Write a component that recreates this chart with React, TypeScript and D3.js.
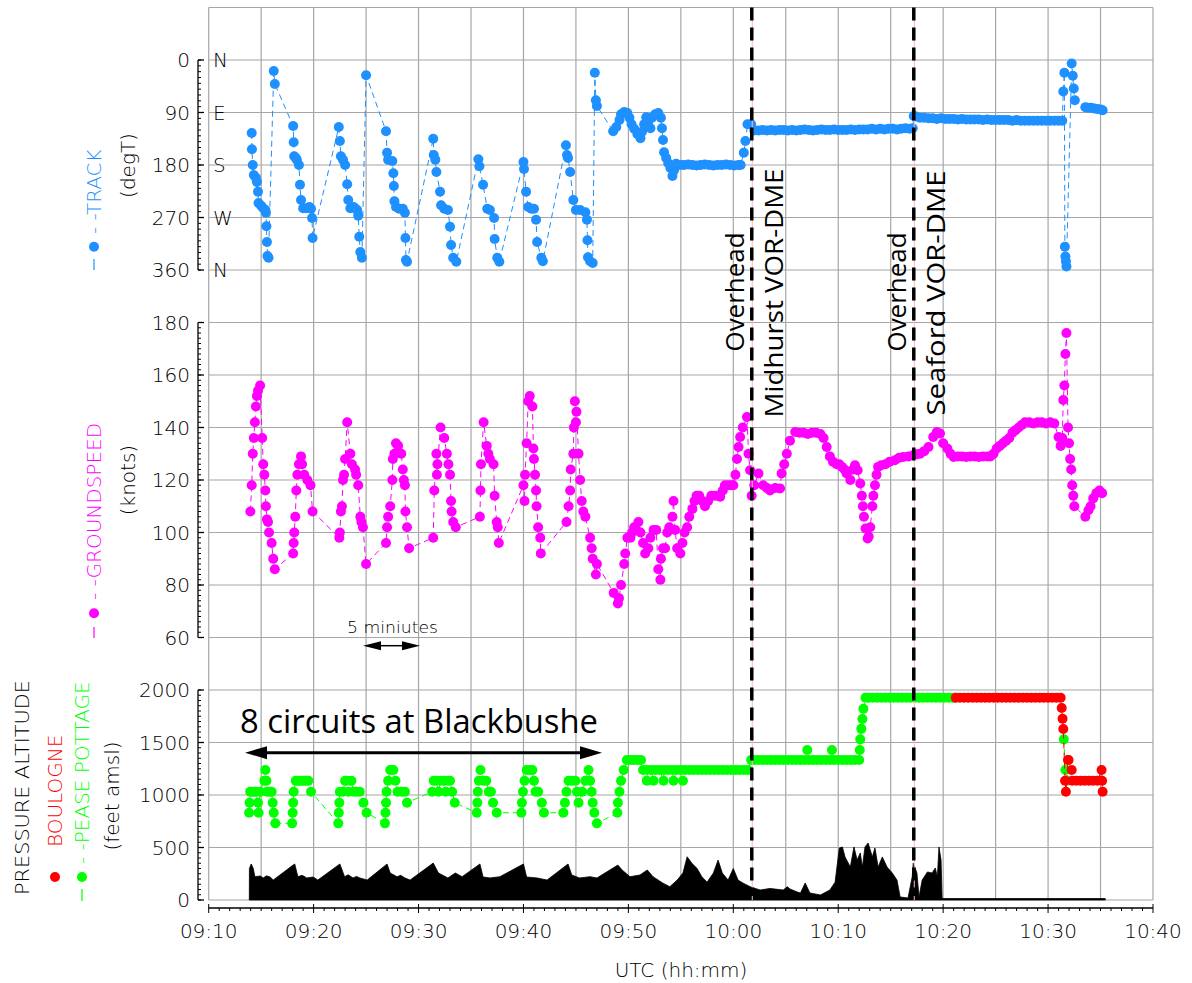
import React from 'react';
import * as d3 from 'd3';

type Pt = [number, number];

// time is minutes after 09:00 UTC

// track, degrees true
const trackPoints: Pt[] = [
  [14.1, 125], [14.12, 153], [14.2, 180], [14.3, 197], [14.5, 202], [14.6, 209], [14.7, 226], [14.75, 245], [15.0, 250], [15.2, 254],
  [15.4, 257], [15.45, 262], [15.5, 285], [15.55, 312], [15.6, 336], [15.7, 339], [16.2, 19], [16.3, 41],
  [18.05, 113], [18.1, 141], [18.15, 165], [18.3, 168], [18.4, 171], [18.6, 180], [18.7, 214], [18.8, 240], [19.0, 254], [19.3, 254],
  [19.6, 252], [19.75, 255], [19.85, 271], [19.9, 305],
  [22.4, 115], [22.5, 139], [22.6, 165], [22.8, 171], [23.0, 180], [23.2, 213], [23.3, 240], [23.5, 254], [23.8, 252], [23.95, 254],
  [24.15, 257], [24.25, 267], [24.35, 303], [24.45, 329], [24.6, 339], [25.0, 26],
  [26.9, 122], [27.0, 159], [27.1, 171], [27.5, 173], [27.6, 194], [27.65, 216], [27.7, 242], [27.85, 252], [28.15, 255], [28.5, 255],
  [28.7, 262], [28.75, 305], [28.8, 343], [28.9, 346],
  [31.4, 135], [31.45, 163], [31.6, 171], [31.7, 192], [32.05, 226], [32.15, 249], [32.45, 255], [32.8, 257], [33.0, 286], [33.1, 317],
  [33.3, 339], [33.6, 346],
  [35.7, 170], [35.8, 182], [36.15, 214], [36.55, 255], [36.8, 257], [37.2, 271], [37.25, 307], [37.5, 339], [37.7, 346],
  [40.0, 175], [40.05, 187], [40.25, 226], [40.45, 252], [40.75, 255], [41.0, 255], [41.2, 274], [41.3, 312], [41.7, 339], [41.85, 345],
  [44.05, 146], [44.15, 163], [44.25, 168], [44.45, 192], [44.75, 240], [45.0, 257], [45.4, 257], [45.9, 261], [46.05, 274], [46.1, 309],
  [46.15, 338], [46.35, 345], [46.6, 348], [46.8, 22], [46.9, 69], [47.0, 79],
  [48.55, 122], [48.85, 115], [49.15, 103], [49.3, 93], [49.6, 89], [49.9, 91], [50.1, 99], [50.3, 110], [50.55, 118], [50.85, 127],
  [51.15, 134], [51.3, 123], [51.5, 110], [51.7, 98], [51.9, 105], [52.1, 117], [52.25, 99], [52.55, 93], [52.85, 91], [53.1, 99],
  [53.2, 117], [53.3, 137], [53.4, 158], [53.6, 168], [53.8, 177], [54.0, 185], [54.2, 199], [54.35, 189], [54.55, 178],
  [54.95, 180], [55.3, 180], [55.7, 179], [56.1, 180], [56.5, 181], [56.9, 180], [57.3, 179], [57.7, 180], [58.1, 181], [58.5, 180],
  [58.9, 180], [59.3, 179], [59.7, 180], [60.1, 181], [60.5, 180], [60.7, 180], [61.0, 159], [61.15, 139], [61.35, 110], [61.7, 110],
  [62.0, 121], [62.4, 121], [62.8, 120], [63.2, 121], [63.6, 120], [64.0, 121], [64.4, 120], [64.8, 120], [65.2, 121], [65.6, 120],
  [66.0, 121], [66.4, 120], [66.8, 119], [67.2, 120], [67.6, 121], [68.0, 120], [68.4, 119], [68.8, 120], [69.2, 120], [69.6, 119],
  [70.0, 120], [70.4, 120], [70.8, 120], [71.2, 119], [71.6, 120], [72.0, 119], [72.4, 119], [72.8, 119], [73.2, 118], [73.6, 119],
  [74.0, 118], [74.4, 119], [74.8, 118], [75.2, 118], [75.6, 119], [76.0, 118], [76.4, 117], [76.8, 118], [77.1, 117],
  [77.2, 96], [77.4, 97], [77.8, 99], [78.2, 99], [78.6, 100], [79.0, 100], [79.4, 101], [79.8, 100], [80.2, 101], [80.6, 101],
  [81.0, 101], [81.4, 102], [81.8, 101], [82.2, 102], [82.6, 102], [83.0, 102], [83.4, 102], [83.8, 103], [84.2, 102], [84.6, 103],
  [85.0, 103], [85.4, 103], [85.8, 103], [86.2, 103], [86.6, 104], [87.0, 103], [87.4, 104], [87.8, 104], [88.2, 104], [88.6, 104],
  [89.0, 104], [89.4, 104], [89.8, 104], [90.2, 104], [90.6, 104], [91.0, 104], [91.35, 104],
  [91.45, 54], [91.55, 22], [91.6, 320], [91.65, 337], [91.7, 345], [91.75, 354], [92.25, 6], [92.35, 27], [92.45, 49], [92.55, 69],
  [93.55, 81], [93.8, 82], [94.1, 82], [94.4, 83], [94.7, 84], [95.0, 85], [95.2, 86],
];

// groundspeed, knots
const groundspeedPoints: Pt[] = [
  [13.97, 108], [14.1, 118], [14.2, 130], [14.3, 136], [14.4, 142], [14.5, 148], [14.6, 152], [14.7, 154], [14.9, 156], [15.1, 136],
  [15.2, 126], [15.3, 122], [15.4, 116], [15.45, 110], [15.55, 105], [15.65, 104], [15.75, 100], [16.0, 96], [16.15, 90], [16.3, 86],
  [18.05, 92], [18.1, 96], [18.15, 100], [18.25, 106], [18.35, 116], [18.45, 122], [18.6, 126], [18.8, 129], [18.9, 126], [19.1, 122],
  [19.4, 120], [19.7, 118], [19.9, 108],
  [22.45, 98], [22.5, 100], [22.6, 108], [22.7, 110], [22.8, 120], [22.9, 122], [23.0, 128], [23.2, 142], [23.5, 130], [23.65, 126],
  [23.95, 124], [24.05, 122], [24.25, 118], [24.45, 106], [24.55, 104], [24.7, 102], [25.0, 88],
  [26.9, 96], [27.0, 102], [27.1, 106], [27.3, 110], [27.5, 120], [27.55, 128], [27.7, 130], [27.85, 134], [28.05, 133], [28.35, 130],
  [28.5, 124], [28.6, 120], [28.7, 118], [28.75, 108], [28.9, 102], [29.1, 94],
  [31.4, 98], [31.5, 116], [31.7, 130], [31.75, 122], [31.8, 126], [32.1, 140], [32.45, 136], [32.7, 130], [32.85, 126], [33.0, 122],
  [33.1, 112], [33.15, 108], [33.3, 104], [33.55, 102],
  [35.85, 106], [35.9, 116], [35.95, 126], [36.2, 142], [36.5, 133], [36.65, 130], [36.8, 128], [37.15, 126], [37.25, 114], [37.45, 104],
  [37.55, 102], [37.65, 96],
  [40.0, 118], [40.1, 112], [40.15, 122], [40.3, 134], [40.45, 150], [40.6, 152], [40.85, 148], [40.95, 132], [41.0, 128], [41.1, 122],
  [41.2, 116], [41.25, 110], [41.4, 102], [41.6, 98], [41.65, 92],
  [44.1, 104], [44.3, 110], [44.45, 116], [44.5, 124], [44.75, 130], [44.8, 140], [44.9, 150], [45.0, 142], [45.05, 146], [45.25, 130],
  [45.4, 120], [45.55, 112], [45.7, 108], [45.9, 106], [46.35, 98], [46.5, 94], [46.6, 90], [46.9, 84], [47.0, 88],
  [48.6, 77], [49.0, 73], [49.1, 75], [49.3, 80], [49.6, 88], [49.7, 92], [49.9, 98], [50.2, 98], [50.35, 100], [50.55, 102],
  [50.75, 101], [50.95, 104], [51.15, 100], [51.4, 96], [51.6, 92], [51.9, 94], [52.1, 98], [52.4, 101], [52.65, 101], [52.85, 86],
  [53.05, 82], [53.1, 90], [53.3, 94], [53.5, 94], [53.7, 100], [53.9, 102], [54.2, 106], [54.3, 112], [54.45, 101], [54.65, 94],
  [54.95, 92], [55.15, 96], [55.35, 100], [55.6, 102], [55.8, 106], [56.1, 109], [56.3, 112], [56.5, 114], [56.75, 114], [57.05, 112],
  [57.3, 110], [57.6, 112], [57.9, 114], [58.2, 114], [58.5, 114], [58.75, 113.6], [59.0, 116], [59.2, 118], [59.5, 118], [59.8, 118],
  [60.0, 118], [60.2, 122], [60.35, 128], [60.5, 132.6], [60.65, 136.4], [60.9, 140], [61.3, 144], [61.45, 130], [61.6, 123.7], [61.75, 114],
  [62.0, 118], [62.4, 122.5], [62.85, 118], [63.2, 117], [63.5, 116], [64.0, 117], [64.45, 116.8], [64.6, 122.5], [64.85, 126], [65.1, 130],
  [65.4, 135], [65.9, 138.3], [66.3, 138], [66.7, 138], [67.1, 137.5], [67.5, 138], [67.9, 138], [68.3, 137.5], [68.6, 136], [68.9, 132.6],
  [69.2, 129], [69.5, 127], [69.85, 126], [70.1, 126], [70.35, 125], [70.6, 124], [70.8, 122.5], [71.15, 120], [71.4, 124], [71.6, 125.6],
  [71.85, 123.7], [72.1, 118.7], [72.25, 114], [72.35, 110], [72.45, 106], [72.6, 101.5], [72.8, 97.7], [72.9, 98.5], [73.05, 102], [73.25, 110],
  [73.35, 114], [73.5, 118], [73.65, 122], [73.8, 125], [74.1, 125.6], [74.5, 126], [74.9, 127], [75.4, 127.5], [75.8, 128.5], [76.2, 128.8],
  [76.7, 129], [77.15, 129.4], [77.5, 129.8], [77.8, 130], [78.2, 131], [78.6, 132.6], [79.05, 136.4], [79.4, 138.3], [79.7, 137.7], [80.0, 134],
  [80.4, 132], [80.7, 130], [81.0, 128.8], [81.4, 129], [81.8, 129], [82.2, 128.8], [82.6, 129], [83.0, 129], [83.4, 128.8], [83.8, 129],
  [84.2, 129], [84.5, 129], [84.8, 130], [85.1, 132], [85.4, 133], [85.7, 134], [86.0, 135], [86.3, 136], [86.6, 138], [86.9, 139],
  [87.2, 140], [87.5, 141], [87.8, 142], [88.2, 142], [88.6, 141.5], [89.0, 142], [89.4, 142], [89.8, 141.5], [90.2, 142], [90.6, 141.5],
  [91.0, 136.4], [91.2, 133], [91.35, 136],
  [91.45, 150.5], [91.55, 156], [91.65, 168], [91.75, 176], [91.9, 140], [92.0, 134], [92.1, 128], [92.2, 124], [92.3, 118], [92.4, 114],
  [92.5, 110], [93.55, 106], [93.85, 108.5], [94.05, 110], [94.3, 113], [94.6, 115], [94.9, 116], [95.15, 115],
];

// pressure altitude over Pease Pottage setting, feet
const peasePottagePoints: Pt[] = [
  [13.85, 831], [13.9, 927], [13.95, 1031], [14.1, 1031], [14.3, 1031], [14.5, 1031], [14.7, 927], [14.75, 831], [14.9, 1031], [15.3, 1136],
  [15.4, 1238], [15.5, 1136], [15.55, 1031], [15.8, 1031], [16.0, 1031], [16.1, 927], [16.2, 831], [16.35, 730],
  [17.95, 730], [18.0, 831], [18.05, 927], [18.1, 1031], [18.3, 1136], [18.5, 1136], [18.7, 1136], [18.9, 1136], [19.1, 1136], [19.3, 1136],
  [19.5, 1136], [19.75, 1031],
  [22.35, 730], [22.4, 831], [22.45, 927], [22.5, 1031], [22.8, 1031], [23.0, 1136], [23.15, 1136], [23.3, 1031], [23.6, 1136], [23.8, 1031],
  [24.1, 1031], [24.4, 1031], [24.75, 927], [25.05, 831],
  [26.8, 730], [26.85, 831], [26.9, 927], [26.95, 1031], [27.1, 1136], [27.3, 1238], [27.6, 1238], [27.8, 1136], [28.0, 1031], [28.4, 1031],
  [28.7, 1031], [28.9, 927],
  [31.3, 1031], [31.45, 1136], [31.7, 1136], [31.9, 1031], [32.1, 1136], [32.4, 1136], [32.6, 1031], [32.8, 1136], [33.0, 1136], [33.2, 1031],
  [33.45, 927],
  [35.55, 831], [35.6, 927], [35.65, 1031], [35.75, 1136], [35.9, 1238], [36.2, 1136], [36.45, 1136], [36.7, 1031], [36.9, 1031], [37.1, 927],
  [37.45, 831],
  [39.8, 831], [39.85, 927], [39.95, 1031], [40.1, 1136], [40.3, 1238], [40.6, 1238], [40.85, 1238], [41.0, 1136], [41.15, 1031], [41.4, 1031],
  [41.75, 927], [41.95, 831],
  [43.8, 831], [43.95, 927], [44.1, 1031], [44.3, 1136], [44.6, 1136], [44.95, 1136], [45.1, 1031], [45.25, 927], [45.6, 1031], [45.9, 1136],
  [46.2, 1238], [46.35, 1136], [46.5, 1031], [46.6, 927], [46.75, 831], [47.0, 730],
  [48.95, 831], [49.0, 927], [49.15, 1031], [49.3, 1136], [49.55, 1238], [49.85, 1333], [50.2, 1333], [50.55, 1333], [50.9, 1333], [51.2, 1333],
  [51.4, 1238], [51.75, 1136], [51.8, 1238], [52.2, 1238], [52.4, 1136], [52.6, 1238], [53.0, 1238], [53.35, 1136], [53.4, 1238], [53.8, 1238],
  [54.2, 1238], [54.3, 1136], [54.6, 1238], [55.0, 1238], [55.2, 1136], [55.4, 1238], [55.8, 1238], [56.2, 1238], [56.6, 1238], [57.0, 1238],
  [57.4, 1238], [57.8, 1238], [58.2, 1238], [58.6, 1238], [59.0, 1238], [59.4, 1238], [59.8, 1238], [60.2, 1238], [60.6, 1238], [61.0, 1238],
  [61.4, 1238], [61.7, 1333], [62.0, 1333], [62.4, 1333], [62.8, 1333], [63.2, 1333], [63.6, 1333], [64.0, 1333], [64.4, 1333], [64.8, 1333],
  [65.2, 1333], [65.6, 1333], [66.0, 1333], [66.4, 1333], [66.8, 1333], [67.05, 1428], [67.2, 1333], [67.6, 1333], [68.0, 1333], [68.4, 1333],
  [68.8, 1333], [69.2, 1333], [69.4, 1428], [69.6, 1333], [70.0, 1333], [70.4, 1333], [70.8, 1333], [71.2, 1333], [71.6, 1333], [72.0, 1333],
  [72.05, 1428], [72.1, 1530], [72.2, 1630], [72.3, 1724], [72.4, 1822], [72.6, 1927], [72.9, 1927], [73.3, 1927], [73.7, 1927], [74.1, 1927],
  [74.5, 1927], [74.9, 1927], [75.3, 1927], [75.7, 1927], [76.1, 1927], [76.5, 1927], [76.9, 1927], [77.3, 1927], [77.7, 1927], [78.1, 1927],
  [78.5, 1927], [78.9, 1927], [79.3, 1927], [79.7, 1927], [80.1, 1927], [80.5, 1927], [80.9, 1927], [81.1, 1927],
  [91.5, 1530], [91.65, 1238], [91.8, 1136],
];

// pressure altitude over Boulogne setting, feet
const boulognePoints: Pt[] = [
  [81.2, 1927], [81.6, 1927], [82.0, 1927], [82.4, 1927], [82.8, 1927], [83.2, 1927], [83.6, 1927], [84.0, 1927], [84.4, 1927], [84.8, 1927],
  [85.2, 1927], [85.6, 1927], [86.0, 1927], [86.4, 1927], [86.8, 1927], [87.2, 1927], [87.6, 1927], [88.0, 1927], [88.4, 1927], [88.8, 1927],
  [89.2, 1927], [89.6, 1927], [90.0, 1927], [90.4, 1927], [90.8, 1927], [91.2, 1927], [91.3, 1829], [91.38, 1727], [91.45, 1629],
  [91.62, 1136], [91.7, 1031], [91.9, 1333], [91.95, 1333], [92.25, 1238], [92.3, 1136], [92.7, 1136], [93.1, 1136], [93.5, 1136], [93.9, 1136],
  [94.3, 1136], [94.7, 1136], [95.1, 1238], [95.15, 1136], [95.2, 1031],
];

// ground elevation under the aircraft, feet
const terrainPoints: Pt[] = [
  [13.87, 0], [13.88, 300], [14.05, 343], [14.25, 300], [14.4, 222], [14.9, 229], [15.2, 210], [15.5, 230], [15.85, 219], [16.15, 190],
  [18.05, 333], [18.2, 343], [18.5, 222], [18.9, 235], [19.35, 210], [19.95, 219], [20.4, 190],
  [22.5, 343], [22.95, 222], [23.3, 240], [23.75, 210], [24.1, 225], [24.4, 210], [25.1, 190],
  [27.0, 343], [27.3, 257], [27.95, 222], [28.3, 235], [28.7, 210], [29.2, 190],
  [31.4, 352], [31.9, 257], [32.8, 210], [33.5, 257], [34.15, 222],
  [35.85, 343], [36.15, 219], [36.8, 210], [37.75, 222],
  [40.0, 343], [40.3, 219], [41.3, 210], [42.25, 190],
  [44.25, 343], [44.6, 238], [45.35, 210], [46.35, 222], [47.0, 210],
  [49.0, 333], [49.4, 286], [50.15, 222], [51.1, 238], [51.8, 286], [52.35, 222], [53.3, 160], [53.95, 127], [54.65, 190], [55.2, 257],
  [55.6, 412], [56.05, 350], [56.55, 300], [57.0, 222], [57.5, 170], [58.1, 257], [58.55, 380], [58.95, 257], [59.5, 190], [60.0, 300],
  [60.45, 190], [60.95, 160], [61.6, 127], [62.55, 95], [63.5, 110], [64.75, 95], [65.15, 127], [65.4, 105], [66.1, 76], [66.4, 67],
  [66.85, 162], [67.3, 67], [68.3, 48], [69.2, 95], [69.7, 170], [70.1, 495], [70.4, 505], [70.65, 410], [71.15, 314], [71.5, 505],
  [71.8, 381], [72.1, 448], [72.3, 314], [72.55, 505], [72.85, 543], [73.25, 410], [73.5, 495], [73.8, 314], [74.2, 410], [74.65, 314],
  [75.15, 257], [75.6, 190], [75.9, 29], [76.65, 19], [77.05, 222], [77.15, 352], [77.5, 257], [77.7, 29], [78.0, 190], [78.5, 267],
  [78.95, 257], [79.25, 305], [79.45, 219], [79.6, 505], [79.8, 381], [79.9, 14], [95.45, 14], [95.46, 0],
];

const overheadTimes = [61.76, 77.2];
const overheadNames = ['Midhurst VOR-DME', 'Seaford VOR-DME'];
const overheadNameLengths = [249, 245];

const trackTicks = [0, 90, 180, 270, 360];
const compassLabels = ['N', 'E', 'S', 'W', 'N'];
const speedTicks = [60, 80, 100, 120, 140, 160, 180];
const altTicks = [0, 500, 1000, 1500, 2000];
const timeTicks = [10, 20, 30, 40, 50, 60, 70, 80, 90, 100];

const BLUE = '#1e90ff';
const MAGENTA = '#ff00ff';
const GREEN = '#00ff00';
const RED = '#ff0000';
const GRID = '#a6a6a6';
const INK = '#000';
const AXIS_FONT = 'DejaVu Sans, Verdana, sans-serif';
const AXIS_WEIGHT = 200;
const NOTE_FONT = 'Open Sans, Noto Sans, sans-serif';

const x = d3.scaleLinear().domain([10, 100]).range([208.7, 1153]);
const trackY = d3.scaleLinear().domain([0, 360]).range([60, 270]);
const speedY = d3.scaleLinear().domain([60, 180]).range([637.5, 322.5]);
const altY = d3.scaleLinear().domain([0, 2000]).range([900, 690]);

const AXIS_X = 198;

const fmtTime = (m: number) => {
  const total = 9 * 60 + m;
  return `${String(Math.floor(total / 60)).padStart(2, '0')}:${String(total % 60).padStart(2, '0')}`;
};

// split a series where the recording has a long gap
const segments = (pts: Pt[], gap: number) => {
  const sorted = [...pts].sort((a, b) => a[0] - b[0]);
  const out: Pt[][] = [];
  let cur: Pt[] = [];
  sorted.forEach(p => {
    if (cur.length && p[0] - cur[cur.length - 1][0] > gap) {
      out.push(cur);
      cur = [];
    }
    cur.push(p);
  });
  if (cur.length) out.push(cur);
  return out;
};

function Series({ pts, y, color }: { pts: Pt[]; y: d3.ScaleLinear<number, number>; color: string }) {
  const line = d3.line<Pt>().x(d => x(d[0])).y(d => y(d[1]));
  return (
    <g>
      {segments(pts, 6).map((s, i) => (
        <path key={i} d={line(s) || ''} fill="none" stroke={color} strokeWidth={1} strokeDasharray="6,4" />
      ))}
      {pts.map((p, i) => (
        <circle key={i} cx={x(p[0])} cy={y(p[1])} r={5} fill={color} />
      ))}
    </g>
  );
}

function YAxis({ scale, min, max, minor, ticks }: {
  scale: d3.ScaleLinear<number, number>; min: number; max: number; minor: number; ticks: number[];
}) {
  const minors = d3.range(min, max + minor / 2, minor);
  return (
    <g stroke={INK}>
      <line x1={AXIS_X} x2={AXIS_X} y1={scale(min)} y2={scale(max)} strokeWidth={1.3} />
      {minors.map(v => (
        <line key={v} x1={AXIS_X} x2={AXIS_X + 3} y1={scale(v)} y2={scale(v)} strokeWidth={1} />
      ))}
      {ticks.map(v => (
        <g key={v}>
          <line x1={AXIS_X} x2={AXIS_X + 6} y1={scale(v)} y2={scale(v)} strokeWidth={1.3} />
          <text x={190} y={scale(v)} textAnchor="end" dominantBaseline="central" stroke="none" fill={INK}
            fontSize={20} fontFamily={AXIS_FONT} fontWeight={AXIS_WEIGHT}>{v}</text>
        </g>
      ))}
    </g>
  );
}

function VText({ cx, cy, children, anchor = 'middle', color = INK, size = 20, font = AXIS_FONT, weight = AXIS_WEIGHT, len }: {
  cx: number; cy: number; children: React.ReactNode; anchor?: string; color?: string; size?: number; font?: string; weight?: number; len?: number;
}) {
  return (
    <text transform={`translate(${cx},${cy}) rotate(-90)`} textAnchor={anchor} dominantBaseline="central"
      fill={color} fontSize={size} fontFamily={font} fontWeight={weight}
      {...(len ? { textLength: len, lengthAdjust: 'spacingAndGlyphs' } : {})}>{children}</text>
  );
}

function Arrow({ x1, x2, y, head, half, width }: { x1: number; x2: number; y: number; head: number; half: number; width: number }) {
  return (
    <g fill="#000" stroke="none">
      <line x1={x1 + head - 2} x2={x2 - head + 2} y1={y} y2={y} stroke="#000" strokeWidth={width} />
      <polygon points={`${x1},${y} ${x1 + head},${y - half} ${x1 + head},${y + half}`} />
      <polygon points={`${x2},${y} ${x2 - head},${y - half} ${x2 - head},${y + half}`} />
    </g>
  );
}

export default function App() {
  const top = trackY(-90);
  const bottom = altY(0);
  const hLines = [...[-90, ...trackTicks].map(v => trackY(v)), ...speedTicks.map(v => speedY(v)), ...altTicks.map(v => altY(v))];
  const vLines = d3.range(10, 101, 5);
  const area = d3.area<Pt>().x(d => x(d[0])).y0(altY(0)).y1(d => altY(d[1]));

  return (
    <svg width={1192} height={983} style={{ position: 'absolute', left: 0, top: 0, background: '#fff' }}>
      <rect width={1192} height={983} fill="#fff" />

      {/* grid */}
      <g stroke={GRID} strokeWidth={1.2}>
        {vLines.map(m => <line key={m} x1={x(m)} x2={x(m)} y1={top} y2={bottom} />)}
        {hLines.map((y, i) => <line key={i} x1={x(10)} x2={x(100)} y1={y} y2={y} />)}
      </g>

      {/* terrain */}
      <path d={area(terrainPoints) || ''} fill="#000" stroke="#000" strokeWidth={0.8} />

      <Series pts={trackPoints} y={trackY} color={BLUE} />
      <Series pts={groundspeedPoints} y={speedY} color={MAGENTA} />
      <Series pts={peasePottagePoints} y={altY} color={GREEN} />
      <Series pts={boulognePoints} y={altY} color={RED} />

      {/* overhead markers */}
      {overheadTimes.map((m, i) => (
        <g key={m}>
          <line x1={x(m) + 0.5} x2={x(m) + 0.5} y1={top} y2={bottom} stroke="#ffb6c1" strokeWidth={1} />
          <line x1={x(m)} x2={x(m)} y1={top} y2={bottom - 4} stroke="#000" strokeWidth={3.5} strokeDasharray="13,7" />
          <VText cx={x(m) - 18} cy={292} size={26} font={NOTE_FONT} weight={400} color="#000" len={119}>Overhead</VText>
          <VText cx={x(m) + 21} cy={293} size={26} font={NOTE_FONT} weight={400} color="#000" len={overheadNameLengths[i]}>{overheadNames[i]}</VText>
        </g>
      ))}

      {/* compass letters */}
      {trackTicks.map((v, i) => (
        <text key={i} x={213} y={trackY(v)} dominantBaseline="central" fill={INK} fontSize={20} fontFamily={AXIS_FONT}
          fontWeight={AXIS_WEIGHT}>{compassLabels[i]}</text>
      ))}

      {/* y axes */}
      <YAxis scale={trackY} min={0} max={360} minor={10} ticks={trackTicks} />
      <YAxis scale={speedY} min={60} max={180} minor={2} ticks={speedTicks} />
      <YAxis scale={altY} min={0} max={2000} minor={50} ticks={altTicks} />

      {/* x axis */}
      <g stroke={INK}>
        <line x1={x(10)} x2={x(100)} y1={908} y2={908} strokeWidth={1.3} />
        {d3.range(10, 101, 1).map(m => (
          <line key={m} x1={x(m)} x2={x(m)} y1={m % 10 === 0 ? 904 : 908} y2={m % 10 === 0 ? 913 : 911} strokeWidth={1} />
        ))}
        {timeTicks.map(m => (
          <text key={m} x={x(m)} y={938} textAnchor="middle" stroke="none" fill={INK} fontSize={20} fontFamily={AXIS_FONT}
            fontWeight={AXIS_WEIGHT}>{fmtTime(m)}</text>
        ))}
      </g>
      <text x={681} y={977} textAnchor="middle" fill={INK} fontSize={20} fontFamily={AXIS_FONT} fontWeight={AXIS_WEIGHT}>UTC (hh:mm)</text>

      {/* legends */}
      <line x1={94} x2={94} y1={270} y2={259} stroke={BLUE} strokeWidth={1.2} />
      <circle cx={94} cy={246.7} r={5} fill={BLUE} />
      <VText cx={94} cy={234} anchor="start" color={BLUE}>- -TRACK</VText>
      <VText cx={128} cy={165.5}>(degT)</VText>

      <line x1={94} x2={94} y1={638} y2={627} stroke={MAGENTA} strokeWidth={1.2} />
      <circle cx={94} cy={613.3} r={5} fill={MAGENTA} />
      <VText cx={94} cy={600} anchor="start" color={MAGENTA}>- -GROUNDSPEED</VText>
      <VText cx={128} cy={480}>(knots)</VText>

      <VText cx={22} cy={895} anchor="start" len={215}>PRESSURE ALTITUDE</VText>
      <circle cx={55} cy={877} r={5} fill={RED} />
      <VText cx={55} cy={847} anchor="start" color={RED}>BOULOGNE</VText>
      <line x1={82} x2={82} y1={901} y2={889} stroke={GREEN} strokeWidth={1.2} />
      <circle cx={82} cy={877} r={5} fill={GREEN} />
      <VText cx={82} cy={864} anchor="start" color={GREEN}>- -PEASE POTTAGE</VText>
      <VText cx={112} cy={796}>(feet amsl)</VText>

      {/* annotations */}
      <text x={347} y={633} fill={INK} fontSize={15} fontFamily={AXIS_FONT} fontWeight={AXIS_WEIGHT}
        textLength={91} lengthAdjust="spacingAndGlyphs">5  miniutes</text>
      <Arrow x1={363} x2={420} y={645.7} head={18} half={4.5} width={1.5} />

      <text x={240} y={733} fill="#000" fontSize={32} fontFamily={NOTE_FONT} textLength={358} lengthAdjust="spacingAndGlyphs">8 circuits at Blackbushe</text>
      <Arrow x1={245} x2={602} y={752.7} head={22} half={6.5} width={3} />
    </svg>
  );
}
